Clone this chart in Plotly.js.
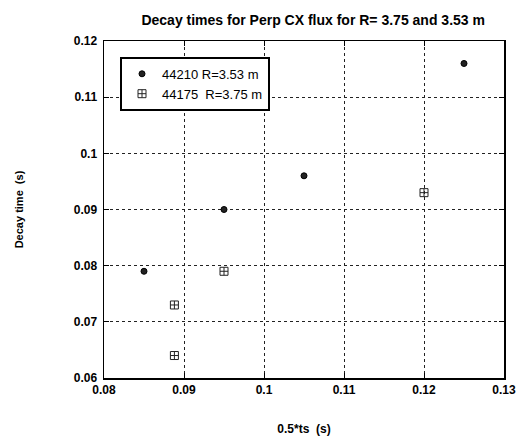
<!DOCTYPE html>
<html><head><meta charset="utf-8">
<script src="https://cdn.plot.ly/plotly-3.0.1.min.js"></script>
<style>body{margin:0;background:#fff}#c{width:522px;height:445px}</style>
</head><body><div id="c"></div>
<script>
const s1Name = "44210 R=3.53 m";
const s1X = [0.085, 0.095, 0.105, 0.125];
const s1Y = [0.079, 0.090, 0.096, 0.116];
const s2Name = "44175  R=3.75 m";
const s2X = [0.0888, 0.0888, 0.095, 0.120];
const s2Y = [0.073, 0.064, 0.079, 0.093];
const xTicks = [0.08, 0.09, 0.1, 0.11, 0.12, 0.13];
const xTickText = ["0.08", "0.09", "0.1", "0.11", "0.12", "0.13"];
const yTicks = [0.06, 0.07, 0.08, 0.09, 0.1, 0.11, 0.12];
const yTickText = ["0.06", "0.07", "0.08", "0.09", "0.1", "0.11", "0.12"];

const F = "Liberation Sans, Arial, sans-serif";
const data = [
  {x: s1X, y: s1Y, name: s1Name, mode: "markers", type: "scatter",
   marker: {symbol: "circle", size: 6, color: "#222", line: {color: "#000", width: 1}}},
  {x: s2X, y: s2Y, name: s2Name, mode: "markers", type: "scatter",
   marker: {symbol: "square-cross-open", size: 8, color: "#222", line: {width: 1}}}
];
const axisCommon = {
  showline: true, linecolor: "#000", linewidth: 1.5, mirror: "ticks",
  ticks: "inside", ticklen: 5, tickcolor: "#000",
  showgrid: true, gridcolor: "#222", griddash: "dot", gridwidth: 1,
  zeroline: false, tickfont: {family: F, size: 12, color: "#000", weight: "bold"}
};
const layout = {
  width: 522, height: 445,
  margin: {l: 104, r: 18, t: 41, b: 67},
  paper_bgcolor: "#fff", plot_bgcolor: "#fff",
  title: {text: "<b>Decay times for Perp CX flux for R= 3.75 and 3.53 m</b>",
          font: {family: F, size: 14, color: "#000"}, x: 0.6, xanchor: "center", y: 0.955, yanchor: "middle"},
  xaxis: Object.assign({}, axisCommon, {range: [0.08, 0.13], tickvals: xTicks, ticktext: xTickText,
    title: {text: "<b>0.5*ts  (s)</b>", font: {family: F, size: 12, color: "#000"}, standoff: 28}}),
  yaxis: Object.assign({}, axisCommon, {range: [0.06, 0.12], tickvals: yTicks, ticktext: yTickText,
    ticklabelstandoff: 3,
    title: {text: "<b>Decay time  (s)</b>", font: {family: F, size: 11, color: "#000"}, standoff: 48}}),
  showlegend: true,
  legend: {x: 0.04, y: 0.953, xanchor: "left", yanchor: "top",
    bgcolor: "#fff", bordercolor: "#000", borderwidth: 2,
    font: {family: F, size: 13, color: "#000"}, itemwidth: 30}
};
Plotly.newPlot("c", data, layout, {displayModeBar: false, staticPlot: true});
</script></body></html>
